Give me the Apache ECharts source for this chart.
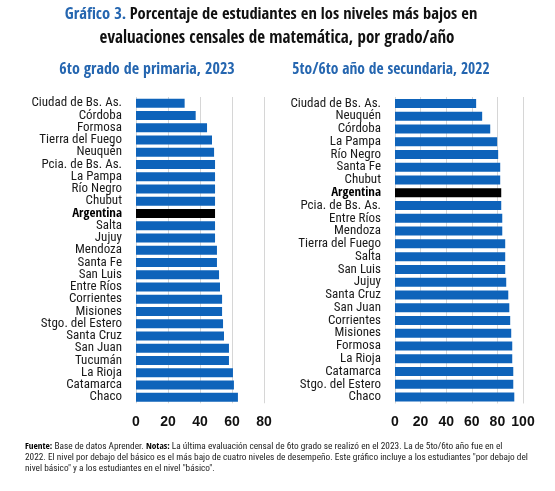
<!DOCTYPE html>
<html><head><meta charset="utf-8">
<script src="https://cdn.jsdelivr.net/npm/echarts@6/dist/echarts.min.js"></script>
<style>html,body{margin:0;padding:0;background:#fff}#c{width:555px;height:491px}</style>
</head><body><div id="c"></div>
<script>
const catsLeft = ["Ciudad de Bs. As.","Córdoba","Formosa","Tierra del Fuego","Neuquén","Pcia. de Bs. As.","La Pampa","Río Negro","Chubut","Argentina","Salta","Jujuy","Mendoza","Santa Fe","San Luis","Entre Ríos","Corrientes","Misiones","Stgo. del Estero","Santa Cruz","San Juan","Tucumán","La Rioja","Catamarca","Chaco"];
const valsLeft = [30.4,37.3,44.4,47.5,48.8,49.4,49.4,49.4,49.4,49.4,49.4,49.4,50.6,50.6,51.9,52.5,53.8,53.8,54.4,55.0,58.1,58.1,60.6,61.2,63.7];
const catsRight = ["Ciudad de Bs. As.","Neuquén","Córdoba","La Pampa","Río Negro","Santa Fe","Chubut","Argentina","Pcia. de Bs. As.","Entre Ríos","Mendoza","Tierra del Fuego","Salta","San Luis","Jujuy","Santa Cruz","San Juan","Corrientes","Misiones","Formosa","La Rioja","Catamarca","Stgo. del Estero","Chaco"];
const valsRight = [63.4,68.1,74.4,79.8,80.6,82.2,82.2,83.0,83.0,83.8,83.8,86.1,86.1,86.1,86.9,88.5,89.3,90.0,90.8,91.6,91.6,92.4,92.4,93.2];
const ticksLeft = [0,20,40,60,80];
const ticksRight = [0,20,40,60,80,100];

const BLUE = '#0e63ba';
const TBLUE = '#2566b0';
const CB = '"Open Sans Condensed","Roboto Condensed",sans-serif';
const CR = '"Roboto Condensed",sans-serif';
const chart = echarts.init(document.getElementById('c'), null, {renderer:'canvas'});

function dataOf(cats, vals){
  return vals.map((v,i)=>({value:v, itemStyle:{color: cats[i]==='Argentina' ? '#000' : BLUE}}));
}
function yAxis(idx, cats){
  return {type:'category', gridIndex:idx, data:cats, inverse:true,
    axisLine:{show:false}, axisTick:{show:false},
    axisLabel:{interval:0, margin:14, fontFamily:CR, fontSize:13, color:'#1a1a1a', lineHeight:12,
      formatter:(v)=> v==='Argentina' ? '{b|'+v+'}' : v,
      rich:{b:{fontFamily:CB, fontSize:13, fontWeight:'bold', color:'#000'}}}};
}
function xAxis(idx, ticks){
  return {type:'value', gridIndex:idx, min:ticks[0], max:ticks[ticks.length-1], interval:ticks[1]-ticks[0],
    axisLine:{show:false}, axisTick:{show:false},
    splitLine:{show:true, lineStyle:{color:'#d6d6d6', width:1}},
    axisLabel:{margin:12, fontFamily:'"Liberation Sans","DejaVu Sans",sans-serif', fontSize:14, fontWeight:'bold', color:'#111'}};
}
const nL = catsLeft.length, nR = catsRight.length;
chart.setOption({
  animation:false,
  grid:[
    {left:136, width:128, top:97, height:12.25*nL},
    {left:395, width:128, top:97, height:12.77*nR}
  ],
  xAxis:[xAxis(0,ticksLeft), xAxis(1,ticksRight)],
  yAxis:[yAxis(0,catsLeft), yAxis(1,catsRight)],
  series:[
    {type:'bar', xAxisIndex:0, yAxisIndex:0, data:dataOf(catsLeft,valsLeft), barWidth:9},
    {type:'bar', xAxisIndex:1, yAxisIndex:1, data:dataOf(catsRight,valsRight), barWidth:9}
  ],
  graphic:[
    {type:'text', x:271, y:6, style:{text:'{b|Gráfico 3.} {k|Porcentaje de estudiantes en los niveles más bajos en}', align:'center',
      rich:{b:{fontFamily:CB, fontWeight:'bold', fontSize:16.5, fill:TBLUE},
            k:{fontFamily:CB, fontWeight:'bold', fontSize:16.5, fill:'#111'}}}},
    {type:'text', x:277, y:30, style:{text:'evaluaciones censales de matemática, por grado/año', align:'center',
      font:'bold 17px '+CB, fill:'#111'}},
    {type:'text', x:147, y:62, style:{text:'6to grado de primaria, 2023', align:'center',
      font:'bold 16px '+CB, fill:TBLUE}},
    {type:'text', x:391, y:62, style:{text:'5to/6to año de secundaria, 2022', align:'center',
      font:'bold 15.5px '+CB, fill:TBLUE}},
    {type:'text', x:25, y:441, style:{
      text:'{b|Fuente:} Base de datos Aprender. {b|Notas:} La última evaluación censal de 6to grado se realizó en el 2023. La de 5to/6to año fue en el\n2022. El nivel por debajo del básico es el más bajo de cuatro niveles de desempeño. Este gráfico incluye a los estudiantes "por debajo del\nnivel básico" y a los estudiantes en el nivel "básico".',
      font:'9.3px '+CR, fill:'#222', lineHeight:11,
      rich:{b:{font:'bold 9.3px '+CB, fill:'#000', lineHeight:11}}}}
  ]
});
</script>
</body></html>
